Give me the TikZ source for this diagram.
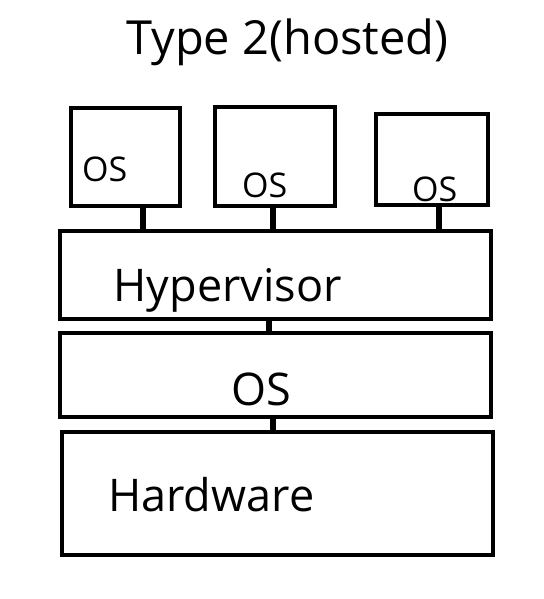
\documentclass[tikz,border=0pt]{standalone}
\usepackage{fontspec}
\setmainfont{Open Sans}
\usetikzlibrary{positioning,calc}
\tikzset{
  box/.style={draw=black,line width=4pt,rectangle,inner sep=0pt},
  link/.style={line width=6pt,black},
  big/.style={font=\fontsize{45}{54}\selectfont,anchor=base,inner sep=0pt},
  small/.style={font=\fontsize{34}{40}\selectfont,anchor=base,inner sep=0pt},
}

\begin{document}
\begin{tikzpicture}[x=1pt,y=-1pt]
  \useasboundingbox (0,0) rectangle (543,599);
  \node[big,font=\fontsize{47}{56}\selectfont] (title) at (287.5,55) {Type 2(hosted)};

  % guest machines
  \node[box,minimum width=108.5pt,minimum height=98pt] (vm1) at (125.25,157) {};
  \node[box,minimum width=119.5pt,minimum height=99pt] (vm2) at (274.75,156.5) {};
  \node[box,minimum width=112pt,minimum height=90.5pt] (vm3) at (432,159.25) {};
  \node[small] (os1) at (104.8,181.7) {OS};
  \node[small] (os2) at (264.8,197.7) {OS};
  \node[small] (os3) at (434.8,201.7) {OS};

  % layers
  \node[box,minimum width=431.5pt,minimum height=88.5pt] (hyp) at (275.25,274.75) {};
  \node[box,minimum width=431pt,minimum height=84pt] (host) at (275,375) {};
  \node[box,minimum width=431pt,minimum height=123pt] (hw) at (277.5,493.5) {};
  \node[big] (hyplab) at (227.7,301) {Hypervisor};
  \node[big] (hostlab) at (261.2,405.7) {OS};
  \node[big] (hwlab) at (211.3,511.7) {Hardware};

  % links
  \coordinate (c1) at ([xshift=18pt]vm1.south);
  \coordinate (c2) at ([xshift=-1.5pt]vm2.south);
  \coordinate (c3) at ([xshift=7pt]vm3.south);
  \coordinate (c4) at ([xshift=-6pt]hyp.south);
  \coordinate (c5) at ([xshift=-1.7pt]host.south);
  \draw[link] (c1) -- (c1 |- hyp.north);
  \draw[link] (c2) -- (c2 |- hyp.north);
  \draw[link] (c3) -- (c3 |- hyp.north);
  \draw[link] (c4) -- (c4 |- host.north);
  \draw[link] (c5) -- (c5 |- hw.north);
\end{tikzpicture}
\end{document}
